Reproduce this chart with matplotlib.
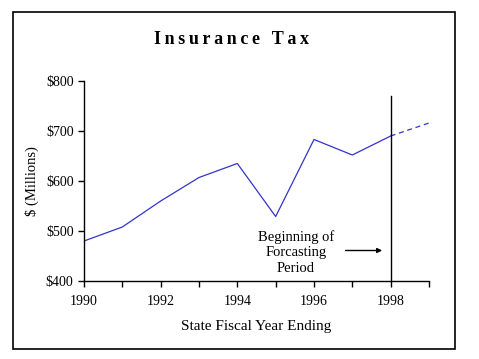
import matplotlib
matplotlib.use("Agg")
import matplotlib.pyplot as plt
from matplotlib.patches import Rectangle

years = [1990, 1991, 1992, 1993, 1994, 1995, 1996, 1997, 1998]
values = [480, 508, 560, 607, 635, 529, 683, 652, 690]
forecast_years = [1998, 1999]
forecast_values = [690, 716]
ytick_vals = [400, 500, 600, 700, 800]
ytick_labels = ["$400", "$500", "$600", "$700", "$800"]
xtick_major = [1990, 1992, 1994, 1996, 1998]

plt.rcParams['font.family'] = ['Liberation Serif', 'DejaVu Serif']

fig = plt.figure(figsize=(4.79, 3.59), dpi=100)
W, H = 479, 359
ax = fig.add_axes([84 / W, (H - 281) / H, (429 - 84) / W, (281 - 81) / H])

line_color = '#3333cc'
ax.plot(years, values, color=line_color, lw=0.9)
ax.plot(forecast_years, forecast_values, color=line_color, lw=0.9, ls=(0, (4, 3)))

ax.plot([1998, 1998], [400, 771], color='black', lw=1.0, clip_on=False)

ax.set_xlim(1990, 1999)
ax.set_ylim(400, 800)
ax.set_xticks(list(range(1990, 2000)))
ax.set_xticklabels([str(y) if y in xtick_major else "" for y in range(1990, 2000)])
ax.set_yticks(ytick_vals)
ax.set_yticklabels(ytick_labels)
ax.tick_params(axis='both', direction='out', length=4, width=1, labelsize=10, colors='black')
ax.tick_params(axis='x', pad=6)
for s in ['top', 'right']:
    ax.spines[s].set_visible(False)
for s in ['left', 'bottom']:
    ax.spines[s].set_linewidth(1)

ax.set_xlabel("State Fiscal Year Ending", fontsize=11, labelpad=9)
ax.set_ylabel("$ (Millions)", fontsize=10.5, labelpad=5)

ax.text(1995.53, 457, "Beginning of\nForcasting\nPeriod", ha='center', va='center',
        fontsize=10.5, linespacing=1.25)
ax.annotate("", xy=(1997.85, 461), xytext=(1996.75, 461),
            arrowprops=dict(arrowstyle='-|>', color='black', lw=1.0, mutation_scale=7))

fig.text(232 / W, 1 - 40 / H, "\u2009".join("Insurance Tax"), ha='center', va='center',
         fontsize=13, fontweight='bold')

fig.patches.append(Rectangle((12.5 / W, 1 - 349 / H), (455 - 12.5) / W, (349 - 12) / H,
                             transform=fig.transFigure, fill=False, edgecolor='black', lw=1.2))

fig.savefig("out.png", dpi=100)
